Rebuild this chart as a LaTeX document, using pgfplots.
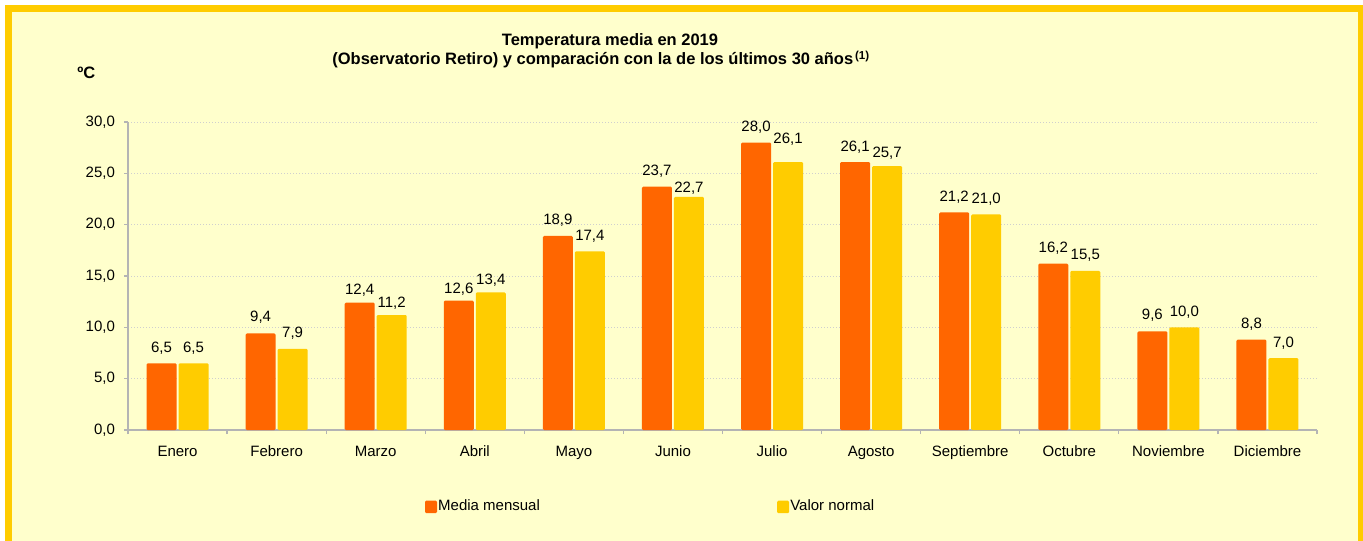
\documentclass[border=0pt]{standalone}
\usepackage{fontspec}
\setmainfont{Liberation Sans}
\usepackage{pgfplots}
\usepackage{pgfplotstable}
\pgfplotsset{compat=1.18}
\definecolor{bgy}{HTML}{FFFFCC}
\definecolor{gold}{HTML}{FFCC00}
\definecolor{orng}{HTML}{FF6600}
\definecolor{ylw}{HTML}{FFCC00}
\definecolor{axgray}{HTML}{B4B4B4}
\definecolor{grd}{HTML}{CFCFCF}
\pgfplotstableread{
x media dm normal dn
0 6.5 0 6.5 0
1 9.4 0.6 7.9 0
2 12.4 -1.65 11.2 -1.85
3 12.6 -1.85 13.4 -1.35
4 18.9 0 17.4 0
5 23.7 0 22.7 -3.35
6 28.0 0 26.1 3.85
7 26.1 0 25.7 -1.15
8 21.2 0 21.0 0
9 16.2 0 15.5 0
10 9.6 0.6 10.0 0
11 8.8 0 7.0 0
}\datatab
\begin{document}
\begin{tikzpicture}[font=\fontsize{7.5}{9}\selectfont]
\useasboundingbox (0,0) rectangle (681.5pt,270pt);
\fill[white] (0,0) rectangle (681.5pt,270pt);
\begin{scope}
\clip (0,0) rectangle (681.5pt,270pt);
\filldraw[fill=bgy, draw=gold, line width=3.35pt] (4.17pt,-12pt) rectangle (680.6pt,265.83pt);
\end{scope}
\node[anchor=base, font=\bfseries\fontsize{8.25}{10}\selectfont] at (305pt,247pt) {Temperatura media en 2019};
\node[anchor=base west, inner sep=0pt, font=\bfseries\fontsize{8.25}{10}\selectfont] at (166pt,237.5pt) {(Observatorio Retiro) y comparación con la de los últimos 30 años\textsuperscript{\,(1)}};
\node[anchor=base west, inner sep=0pt, font=\bfseries\fontsize{8.25}{10}\selectfont] at (38.5pt,230.5pt) {ºC};
\begin{axis}[
  at={(64pt,55pt)}, anchor=south west,
  scale only axis, width=594.5pt, height=154pt,
  xmin=-0.5, xmax=11.5, ymin=0, ymax=30,
  /pgf/number format/assume math mode=true,
  axis x line*=bottom, axis y line*=left,
  axis line style={draw=axgray, line width=0.6pt},
  tick align=outside, major tick length=2pt,
  tick style={draw=axgray, line width=0.6pt},
  ytick={0,5,...,30},
  yticklabel style={xshift=-1pt, /pgf/number format/.cd, fixed, fixed zerofill, precision=1, use comma},
  ymajorgrids, grid style={draw=grd, line width=0.5pt, densely dotted},
  xtick={-0.5,0.5,...,11.5}, xticklabel={\phantom{0}},
  extra x ticks={0,1,2,3,4,5,6,7,8,9,10,11},
  extra x tick labels={Enero,Febrero,Marzo,Abril,Mayo,Junio,Julio,Agosto,Septiembre,Octubre,Noviembre,Diciembre},
  extra x tick style={major tick length=0pt, tick style={draw=none}, xticklabel style={anchor=base, yshift=-13pt}},
  ybar=1pt, bar width=15pt,
  legend columns=2,
  legend style={at={(axis description cs:0.2498,-0.2497)}, anchor=west, draw=none, fill=none, inner sep=0pt, outer sep=0pt,
    nodes={inner sep=0.6pt, outer sep=0pt},
    /tikz/every even column/.append style={column sep=118pt}},
  legend image code/.code={\fill[#1, rounded corners=0.6pt] (0pt,-3.1pt) rectangle (6pt,3.1pt);},
  nodes near coords={\pgfmathprintnumber[fixed,fixed zerofill,precision=1,use comma]{\pgfplotspointmeta}},
]
\addplot[fill=orng, draw=none, rounded corners=0.6pt, visualization depends on={\thisrow{dm} \as \dy},
  every node near coord/.append style={anchor=base, yshift={(5.5+(\dy))*1pt}, text=black, rounded corners=0pt}]
  table[x=x, y=media] {\datatab};
\addlegendentry{Media mensual}
\addplot[fill=ylw, draw=none, rounded corners=0.6pt, visualization depends on={\thisrow{dn} \as \dy},
  every node near coord/.append style={anchor=base, yshift={(5.5+(\dy))*1pt}, text=black, rounded corners=0pt}]
  table[x=x, y=normal] {\datatab};
\addlegendentry{Valor normal}
\end{axis}
\end{tikzpicture}
\end{document}
